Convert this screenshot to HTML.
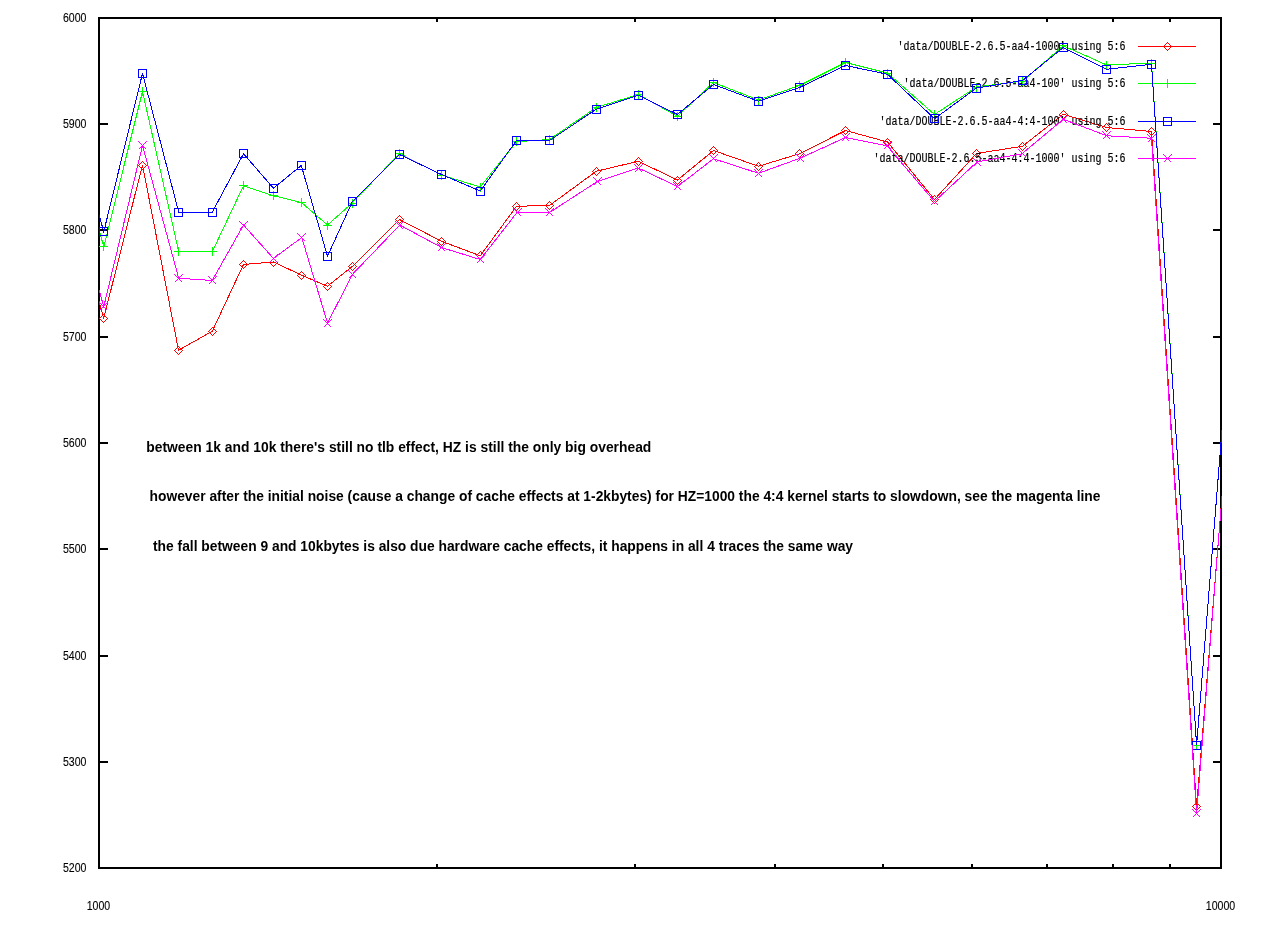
<!DOCTYPE html>
<html><head><meta charset="utf-8"><title>plot</title>
<style>
html,body{margin:0;padding:0;background:#fff;}
body{width:1272px;height:944px;overflow:hidden;}
svg{display:block;will-change:transform;}
text{-webkit-font-smoothing:antialiased;}
.ax{font-family:"Liberation Sans",Arial,sans-serif;font-size:12px;fill:#000;stroke:#000;stroke-width:0.1px;}
.note{font-family:"Liberation Sans",Arial,sans-serif;font-size:14.8px;font-weight:bold;fill:#000;}
.key{font-family:"Liberation Mono","DejaVu Sans Mono",monospace;font-size:10px;fill:#000;stroke:#000;stroke-width:0.15px;}
</style></head><body>
<svg width="1272" height="944" viewBox="0 0 1272 944">
<rect x="0" y="0" width="1272" height="944" fill="#ffffff"/>
<defs><clipPath id="pc"><rect x="99" y="18" width="1122.5" height="850"/></clipPath></defs>

<g stroke="#000" stroke-width="2" fill="none" shape-rendering="crispEdges">
<rect x="99" y="18" width="1122" height="850"/>
<path d="M99 124h9M1221 124h-8M99 230h9M1221 230h-8M99 337h9M1221 337h-8M99 443h9M1221 443h-8M99 549h9M1221 549h-8M99 656h9M1221 656h-8M99 762h9M1221 762h-8M437 18v4M437 868v-4M635 18v4M635 868v-4M775 18v4M775 868v-4M883 18v4M883 868v-4M972 18v4M972 868v-4M1047 18v4M1047 868v-4M1113 18v4M1113 868v-4M1170 18v4M1170 868v-4"/>
</g>
<text class="key" transform="translate(1125.5,50.0) scale(1,1.3)" text-anchor="end" textLength="228" lengthAdjust="spacing">'data/DOUBLE-2.6.5-aa4-1000' using 5:6</text>
<g fill="none" stroke="#ff0000" stroke-width="1" shape-rendering="crispEdges">
<path d="M1138 46.5H1196"/><path d="M1167.5 42.5l4 4l-4 4l-4 -4z"/>
<g clip-path="url(#pc)"><polyline points="70,197.71 103.75,318.25 142.5,165 178.5,350.25 212.25,331.25 243.5,264.5 273.5,262 301.25,275 327.5,286.25 352.25,266.5 399.5,219.5 441.5,241.25 480.25,255.75 516.5,206.25 549.5,205.5 596.25,171.25 638.25,161.25 677.5,180 713.5,150.5 758.5,166.25 799.5,153.75 845.5,130.5 887.5,142 934.5,199.5 976.5,153.5 1022.5,146.25 1063.25,114.25 1106.75,127.5 1151.5,131.5 1196.6,806.6 1240,276.37"/>
<path d="M103.5 314.5l4 4l-4 4l-4 -4z"/>
<path d="M142.5 161.5l4 4l-4 4l-4 -4z"/>
<path d="M178.5 346.5l4 4l-4 4l-4 -4z"/>
<path d="M212.5 327.5l4 4l-4 4l-4 -4z"/>
<path d="M243.5 260.5l4 4l-4 4l-4 -4z"/>
<path d="M273.5 258.5l4 4l-4 4l-4 -4z"/>
<path d="M301.5 271.5l4 4l-4 4l-4 -4z"/>
<path d="M327.5 282.5l4 4l-4 4l-4 -4z"/>
<path d="M352.5 262.5l4 4l-4 4l-4 -4z"/>
<path d="M399.5 215.5l4 4l-4 4l-4 -4z"/>
<path d="M441.5 237.5l4 4l-4 4l-4 -4z"/>
<path d="M480.5 251.5l4 4l-4 4l-4 -4z"/>
<path d="M516.5 202.5l4 4l-4 4l-4 -4z"/>
<path d="M549.5 201.5l4 4l-4 4l-4 -4z"/>
<path d="M596.5 167.5l4 4l-4 4l-4 -4z"/>
<path d="M638.5 157.5l4 4l-4 4l-4 -4z"/>
<path d="M677.5 176.5l4 4l-4 4l-4 -4z"/>
<path d="M713.5 146.5l4 4l-4 4l-4 -4z"/>
<path d="M758.5 162.5l4 4l-4 4l-4 -4z"/>
<path d="M799.5 149.5l4 4l-4 4l-4 -4z"/>
<path d="M845.5 126.5l4 4l-4 4l-4 -4z"/>
<path d="M887.5 138.5l4 4l-4 4l-4 -4z"/>
<path d="M934.5 195.5l4 4l-4 4l-4 -4z"/>
<path d="M976.5 149.5l4 4l-4 4l-4 -4z"/>
<path d="M1022.5 142.5l4 4l-4 4l-4 -4z"/>
<path d="M1063.5 110.5l4 4l-4 4l-4 -4z"/>
<path d="M1106.5 123.5l4 4l-4 4l-4 -4z"/>
<path d="M1151.5 127.5l4 4l-4 4l-4 -4z"/>
<path d="M1196.5 802.5l4 4l-4 4l-4 -4z"/>
</g></g>
<text class="key" transform="translate(1125.5,87.0) scale(1,1.3)" text-anchor="end" textLength="222" lengthAdjust="spacing">'data/DOUBLE-2.6.5-aa4-100' using 5:6</text>
<g fill="none" stroke="#00ff00" stroke-width="1" shape-rendering="crispEdges">
<path d="M1138 83.5H1196"/><path d="M1163 83.5h9M1167.5 79v9"/>
<g clip-path="url(#pc)"><polyline points="70,126.21 103.75,246.75 142.5,91.5 178.75,251.75 212.25,251.75 243.5,185.75 273.5,195.75 301.75,202.75 327.5,225 352.25,203 399.5,153.5 441.5,175 480.25,187 516.5,141.75 549.5,139.5 596.25,107.5 638.25,94.5 677.5,116.25 713.5,82.5 758.5,100 799.5,85.5 845.5,62.5 887.5,73 934.5,114.5 976.5,87 1022.5,81.25 1063.25,45.75 1106.75,65 1151.5,63 1196.6,745.5 1240,206.56"/>
<path d="M99 246.5h9M103.5 242v9"/>
<path d="M138 91.5h9M142.5 87v9"/>
<path d="M174 251.5h9M178.5 247v9"/>
<path d="M208 251.5h9M212.5 247v9"/>
<path d="M239 185.5h9M243.5 181v9"/>
<path d="M269 195.5h9M273.5 191v9"/>
<path d="M297 202.5h9M301.5 198v9"/>
<path d="M323 225.5h9M327.5 221v9"/>
<path d="M348 203.5h9M352.5 199v9"/>
<path d="M395 153.5h9M399.5 149v9"/>
<path d="M437 175.5h9M441.5 171v9"/>
<path d="M476 187.5h9M480.5 183v9"/>
<path d="M512 141.5h9M516.5 137v9"/>
<path d="M545 139.5h9M549.5 135v9"/>
<path d="M592 107.5h9M596.5 103v9"/>
<path d="M634 94.5h9M638.5 90v9"/>
<path d="M673 116.5h9M677.5 112v9"/>
<path d="M709 82.5h9M713.5 78v9"/>
<path d="M754 100.5h9M758.5 96v9"/>
<path d="M795 85.5h9M799.5 81v9"/>
<path d="M841 62.5h9M845.5 58v9"/>
<path d="M883 73.5h9M887.5 69v9"/>
<path d="M930 114.5h9M934.5 110v9"/>
<path d="M972 87.5h9M976.5 83v9"/>
<path d="M1018 81.5h9M1022.5 77v9"/>
<path d="M1059 45.5h9M1063.5 41v9"/>
<path d="M1102 65.5h9M1106.5 61v9"/>
<path d="M1147 63.5h9M1151.5 59v9"/>
<path d="M1192 745.5h9M1196.5 741v9"/>
</g></g>
<text class="key" transform="translate(1125.5,125.0) scale(1,1.3)" text-anchor="end" textLength="246" lengthAdjust="spacing">'data/DOUBLE-2.6.5-aa4-4:4-100' using 5:6</text>
<g fill="none" stroke="#0000ff" stroke-width="1" shape-rendering="crispEdges">
<path d="M1138 121.5H1196"/><path d="M1163.5 117.5h8v8h-8z"/>
<g clip-path="url(#pc)"><polyline points="70,111.21 103.75,231.75 142.5,73.5 178.75,212.25 212.25,212.25 243.5,153.75 273.5,188.25 301.25,165.5 327.5,256.25 352.25,201.75 399.5,154.5 441.5,174.5 480.25,191 516.5,140.5 549.5,140.5 596.25,109.25 638.25,95.25 677.5,114.5 713.5,84.5 758.5,101.25 799.5,87.5 845.5,65.5 887.5,74.25 934.5,118.75 976.5,88 1022.5,80.5 1063.25,47.5 1106.75,69.25 1151.5,64.25 1196.6,745.4 1240,206.64"/>
<path d="M99.5 227.5h8v8h-8z"/>
<path d="M138.5 69.5h8v8h-8z"/>
<path d="M174.5 208.5h8v8h-8z"/>
<path d="M208.5 208.5h8v8h-8z"/>
<path d="M239.5 149.5h8v8h-8z"/>
<path d="M269.5 184.5h8v8h-8z"/>
<path d="M297.5 161.5h8v8h-8z"/>
<path d="M323.5 252.5h8v8h-8z"/>
<path d="M348.5 197.5h8v8h-8z"/>
<path d="M395.5 150.5h8v8h-8z"/>
<path d="M437.5 170.5h8v8h-8z"/>
<path d="M476.5 187.5h8v8h-8z"/>
<path d="M512.5 136.5h8v8h-8z"/>
<path d="M545.5 136.5h8v8h-8z"/>
<path d="M592.5 105.5h8v8h-8z"/>
<path d="M634.5 91.5h8v8h-8z"/>
<path d="M673.5 110.5h8v8h-8z"/>
<path d="M709.5 80.5h8v8h-8z"/>
<path d="M754.5 97.5h8v8h-8z"/>
<path d="M795.5 83.5h8v8h-8z"/>
<path d="M841.5 61.5h8v8h-8z"/>
<path d="M883.5 70.5h8v8h-8z"/>
<path d="M930.5 114.5h8v8h-8z"/>
<path d="M972.5 84.5h8v8h-8z"/>
<path d="M1018.5 76.5h8v8h-8z"/>
<path d="M1059.5 43.5h8v8h-8z"/>
<path d="M1102.5 65.5h8v8h-8z"/>
<path d="M1147.5 60.5h8v8h-8z"/>
<path d="M1192.5 741.5h8v8h-8z"/>
</g></g>
<text class="key" transform="translate(1125.5,162.0) scale(1,1.3)" text-anchor="end" textLength="252" lengthAdjust="spacing">'data/DOUBLE-2.6.5-aa4-4:4-1000' using 5:6</text>
<g fill="none" stroke="#ff00ff" stroke-width="1" shape-rendering="crispEdges">
<path d="M1138 158.5H1196"/><path d="M1163.5 154.5l8 8M1163.5 162.5l8 -8"/>
<g clip-path="url(#pc)"><polyline points="70,186.21 103.75,306.75 142.5,145.5 178.75,278.25 212.25,280.5 243.5,225 273.5,258.5 301.75,237.5 327.5,323 352.75,274 399.75,225 441.5,247.5 480.25,259.5 517,212.5 549.5,212.5 597,181.75 638.25,168 677.5,186.5 713.5,158.75 758.5,173.25 800,158.25 845.5,137.5 887,145.75 934.5,201.5 977,162 1022,153.75 1063.25,119.25 1106.75,135.75 1151.5,138.25 1196.6,813.5 1240,271.36"/>
<path d="M99.5 302.5l8 8M99.5 310.5l8 -8"/>
<path d="M138.5 141.5l8 8M138.5 149.5l8 -8"/>
<path d="M174.5 274.5l8 8M174.5 282.5l8 -8"/>
<path d="M208.5 276.5l8 8M208.5 284.5l8 -8"/>
<path d="M239.5 221.5l8 8M239.5 229.5l8 -8"/>
<path d="M269.5 254.5l8 8M269.5 262.5l8 -8"/>
<path d="M297.5 233.5l8 8M297.5 241.5l8 -8"/>
<path d="M323.5 319.5l8 8M323.5 327.5l8 -8"/>
<path d="M348.5 270.5l8 8M348.5 278.5l8 -8"/>
<path d="M395.5 221.5l8 8M395.5 229.5l8 -8"/>
<path d="M437.5 243.5l8 8M437.5 251.5l8 -8"/>
<path d="M476.5 255.5l8 8M476.5 263.5l8 -8"/>
<path d="M513.5 208.5l8 8M513.5 216.5l8 -8"/>
<path d="M545.5 208.5l8 8M545.5 216.5l8 -8"/>
<path d="M593.5 177.5l8 8M593.5 185.5l8 -8"/>
<path d="M634.5 164.5l8 8M634.5 172.5l8 -8"/>
<path d="M673.5 182.5l8 8M673.5 190.5l8 -8"/>
<path d="M709.5 154.5l8 8M709.5 162.5l8 -8"/>
<path d="M754.5 169.5l8 8M754.5 177.5l8 -8"/>
<path d="M796.5 154.5l8 8M796.5 162.5l8 -8"/>
<path d="M841.5 133.5l8 8M841.5 141.5l8 -8"/>
<path d="M883.5 141.5l8 8M883.5 149.5l8 -8"/>
<path d="M930.5 197.5l8 8M930.5 205.5l8 -8"/>
<path d="M973.5 158.5l8 8M973.5 166.5l8 -8"/>
<path d="M1018.5 149.5l8 8M1018.5 157.5l8 -8"/>
<path d="M1059.5 115.5l8 8M1059.5 123.5l8 -8"/>
<path d="M1102.5 131.5l8 8M1102.5 139.5l8 -8"/>
<path d="M1147.5 134.5l8 8M1147.5 142.5l8 -8"/>
<path d="M1192.5 809.5l8 8M1192.5 817.5l8 -8"/>
</g></g>
<text class="ax" x="86.5" y="872" text-anchor="end" textLength="23.5" lengthAdjust="spacingAndGlyphs">5200</text>
<text class="ax" x="86.5" y="766" text-anchor="end" textLength="23.5" lengthAdjust="spacingAndGlyphs">5300</text>
<text class="ax" x="86.5" y="660" text-anchor="end" textLength="23.5" lengthAdjust="spacingAndGlyphs">5400</text>
<text class="ax" x="86.5" y="553" text-anchor="end" textLength="23.5" lengthAdjust="spacingAndGlyphs">5500</text>
<text class="ax" x="86.5" y="447" text-anchor="end" textLength="23.5" lengthAdjust="spacingAndGlyphs">5600</text>
<text class="ax" x="86.5" y="341" text-anchor="end" textLength="23.5" lengthAdjust="spacingAndGlyphs">5700</text>
<text class="ax" x="86.5" y="234" text-anchor="end" textLength="23.5" lengthAdjust="spacingAndGlyphs">5800</text>
<text class="ax" x="86.5" y="128" text-anchor="end" textLength="23.5" lengthAdjust="spacingAndGlyphs">5900</text>
<text class="ax" x="86.5" y="22" text-anchor="end" textLength="23.5" lengthAdjust="spacingAndGlyphs">6000</text>
<text class="ax" x="98.5" y="910" text-anchor="middle" textLength="23.5" lengthAdjust="spacingAndGlyphs">1000</text>
<text class="ax" x="1220.5" y="910" text-anchor="middle" textLength="29.5" lengthAdjust="spacingAndGlyphs">10000</text>
<text class="note" x="146.3" y="452" textLength="505" lengthAdjust="spacingAndGlyphs">between 1k and 10k there's still no tlb effect, HZ is still the only big overhead</text>
<text class="note" x="149.5" y="501.3" textLength="951" lengthAdjust="spacingAndGlyphs">however after the initial noise (cause a change of cache effects at 1-2kbytes) for HZ=1000 the 4:4 kernel starts to slowdown, see the magenta line</text>
<text class="note" x="153" y="551.3" textLength="700" lengthAdjust="spacingAndGlyphs">the fall between 9 and 10kbytes is also due hardware cache effects, it happens in all 4 traces the same way</text>
</svg></body></html>
